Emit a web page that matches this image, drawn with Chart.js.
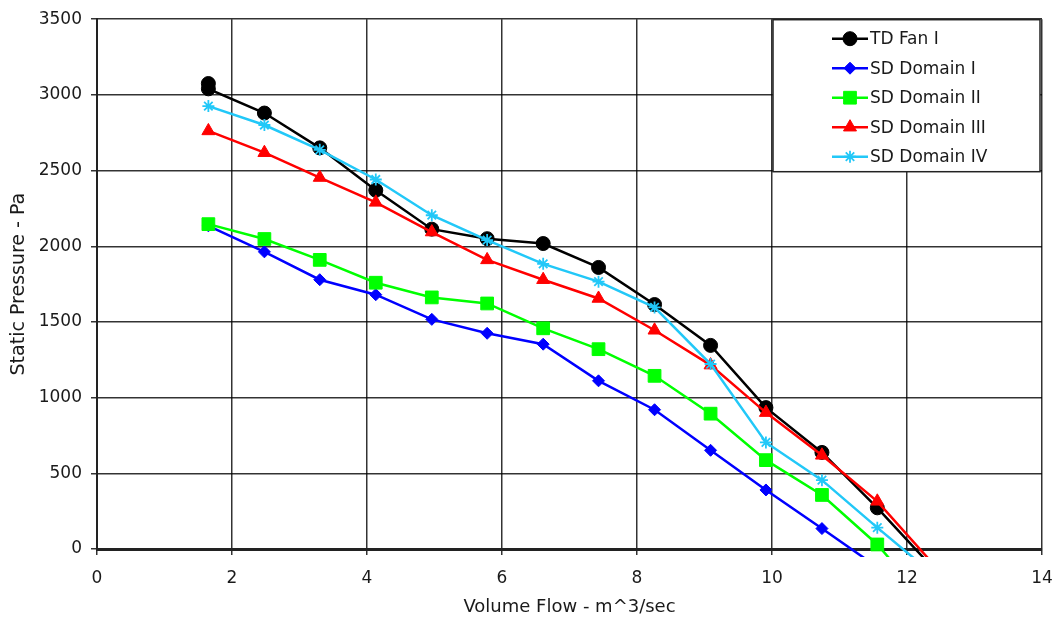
<!DOCTYPE html>
<html lang="en">
<head>
    <meta charset="UTF-8">
    <title>Fan Curves - Static Pressure vs Volume Flow</title>
    <style>
        body { margin: 0; background: #fff; }
        #wrap { width: 1059px; height: 625px; position: relative; }
    </style>
    <script src="https://cdn.jsdelivr.net/npm/chart.js"></script>
</head>
<body>
    <div id="wrap"><canvas id="fanChart"></canvas></div>

    <script>
        // Volume flow (m^3/sec) for each measured point
        const flowTD = [1.65, 1.65, 2.48, 3.30, 4.13, 4.96, 5.78, 6.61, 7.43, 8.26, 9.09, 9.91, 10.74, 11.56, 12.39];
        const flowSD = [1.65, 2.48, 3.30, 4.13, 4.96, 5.78, 6.61, 7.43, 8.26, 9.09, 9.91, 10.74, 11.56, 12.39];

        // Static pressure (Pa)
        const tdFan1    = [3075, 3040, 2880, 2650, 2370, 2113, 2050, 2018, 1860, 1615, 1345, 934, 638, 272, -128];
        const sdDomain1 = [2135, 1963, 1779, 1680, 1517, 1425, 1353, 1111, 920, 652, 390, 135, -120];
        const sdDomain2 = [2146, 2048, 1910, 1759, 1662, 1622, 1458, 1320, 1144, 894, 587, 357, 30, -400];
        const sdDomain3 = [2762, 2618, 2454, 2290, 2094, 1910, 1779, 1655, 1445, 1215, 901, 619, 315, -100];
        const sdDomain4 = [2926, 2801, 2637, 2441, 2205, 2041, 1884, 1766, 1596, 1222, 704, 455, 141, -168];

        const seriesNames = ['TD Fan I', 'SD Domain I', 'SD Domain II', 'SD Domain III', 'SD Domain IV'];

        const FONT = "'DejaVu Sans', sans-serif";
        const TEXT = '#1a1a1a';
        Chart.defaults.font.family = FONT;

        function pairs(xs, ys) {
            return ys.map((y, i) => ({ x: xs[i], y: y }));
        }

        function series(label, xs, ys, color, style, radius, order, width) {
            return {
                label: label,
                data: pairs(xs, ys),
                borderColor: color,
                backgroundColor: color,
                borderWidth: width,
                pointStyle: style,
                pointRadius: radius,
                pointBorderWidth: style === 'star' ? 1.8 : 1,
                pointBackgroundColor: color,
                pointBorderColor: color,
                tension: 0,
                order: order,
                clip: { left: 10, top: 10, right: 10, bottom: 8 }
            };
        }

        // legend box drawn inside the plot, top right corner
        const insideLegend = {
            id: 'insideLegend',
            afterDraw(chart) {
                const ctx = chart.ctx;
                const area = chart.chartArea;
                const w = 267, h = 152;
                const left = area.right - w - 2;
                const top = area.top + 0.5;
                ctx.save();
                ctx.fillStyle = '#fff';
                ctx.fillRect(left, top, w, h);
                ctx.strokeStyle = '#222';
                ctx.lineWidth = 1.5;
                ctx.strokeRect(left, top, w, h);

                chart.data.datasets.forEach((ds, i) => {
                    const y = top + 19 + i * 29.5;
                    ctx.strokeStyle = ds.borderColor;
                    ctx.lineWidth = ds.borderWidth;
                    ctx.beginPath();
                    ctx.moveTo(left + 59, y);
                    ctx.lineTo(left + 95, y);
                    ctx.stroke();

                    ctx.fillStyle = ds.pointBackgroundColor;
                    ctx.strokeStyle = ds.pointBorderColor;
                    ctx.lineWidth = ds.pointBorderWidth;
                    Chart.helpers.drawPoint(ctx, {
                        pointStyle: ds.pointStyle,
                        radius: ds.pointRadius,
                        borderWidth: ds.pointBorderWidth,
                        rotation: 0
                    }, left + 77, y);

                    ctx.fillStyle = TEXT;
                    ctx.font = '17px ' + FONT;
                    ctx.textAlign = 'left';
                    ctx.textBaseline = 'middle';
                    ctx.fillText(ds.label, left + 97, y + 1);
                });
                ctx.restore();
            }
        };

        const gridStyle = {
            color: 'rgba(0,0,0,0.8)',
            lineWidth: 1.5,
            tickLength: 6,
            tickColor: 'rgba(0,0,0,0.8)'
        };

        const plain = (v) => String(v);

        new Chart(document.getElementById('fanChart'), {
            type: 'line',
            data: {
                datasets: [
                    series(seriesNames[0], flowTD, tdFan1, '#000000', 'circle', 7, 5, 2.5),
                    series(seriesNames[1], flowSD, sdDomain1, '#0000ff', 'rectRot', 6, 4, 2.5),
                    series(seriesNames[2], flowSD, sdDomain2, '#00ff00', 'rect', 9, 3, 2.5),
                    series(seriesNames[3], flowSD, sdDomain3, '#ff0000', 'triangle', 7.5, 2, 2.5),
                    series(seriesNames[4], flowSD, sdDomain4, '#22c8f8', 'star', 6, 1, 2.5)
                ]
            },
            options: {
                responsive: true,
                maintainAspectRatio: false,
                animation: false,
                layout: { padding: { left: 0, top: 8, right: 0, bottom: 0 } },
                plugins: {
                    legend: { display: false },
                    tooltip: { enabled: false }
                },
                scales: {
                    x: {
                        type: 'linear',
                        min: 0,
                        max: 14,
                        ticks: { stepSize: 2, color: TEXT, font: { size: 17 }, padding: 13, callback: plain },
                        grid: gridStyle,
                        border: { display: true, color: '#222', width: 3 },
                        title: {
                            display: true,
                            text: 'Volume Flow - m^3/sec',
                            color: TEXT,
                            font: { size: 18 },
                            padding: { top: 4, bottom: 7 }
                        },
                        afterFit(scale) {
                            scale.height = 76;
                            scale.paddingLeft = 0;
                            scale.paddingRight = 17;
                        }
                    },
                    y: {
                        type: 'linear',
                        min: 0,
                        max: 3500,
                        ticks: { stepSize: 500, color: TEXT, font: { size: 17 }, padding: 9, callback: plain },
                        grid: gridStyle,
                        border: { display: true, color: '#222', width: 2 },
                        title: {
                            display: true,
                            text: 'Static Pressure - Pa',
                            color: TEXT,
                            font: { size: 19 },
                            padding: { top: 8, bottom: 4 }
                        },
                        afterFit(scale) { scale.width = 97; }
                    }
                }
            },
            plugins: [insideLegend]
        });
    </script>
</body>
</html>
